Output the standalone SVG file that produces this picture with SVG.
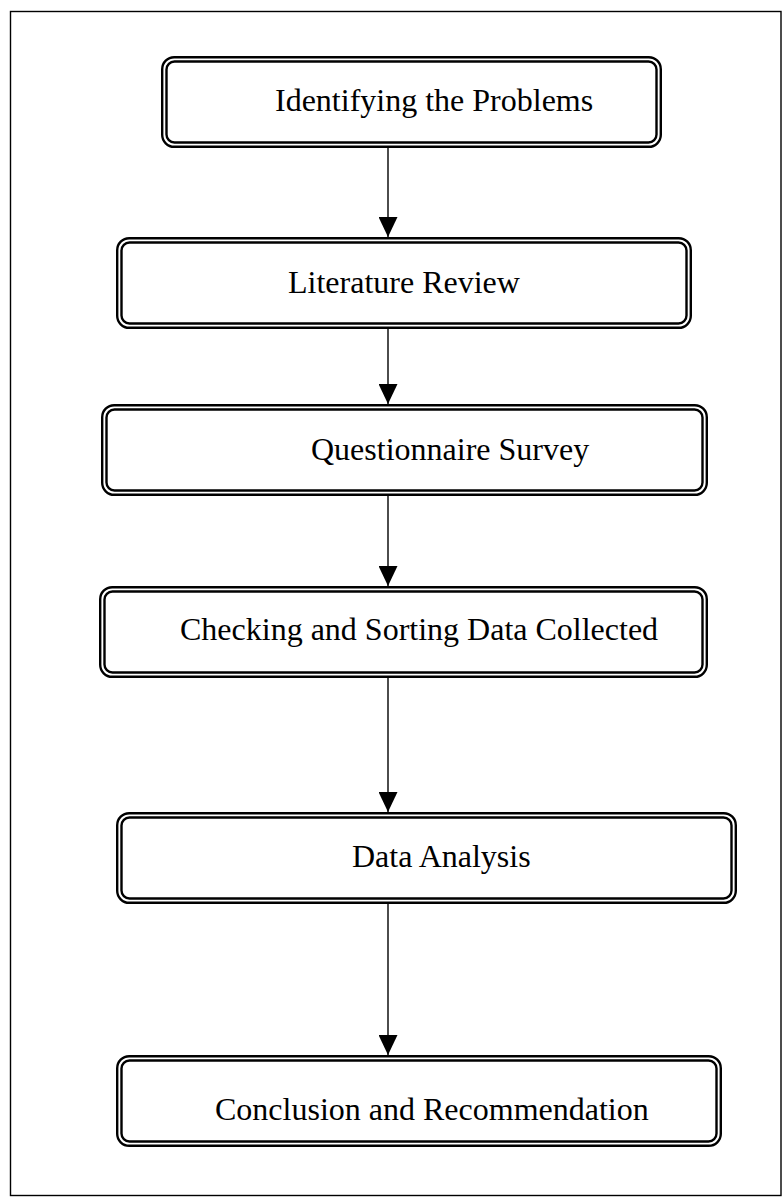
<svg xmlns="http://www.w3.org/2000/svg" width="784" height="1198" viewBox="0 0 784 1198">
  <style>
    .frame { fill: none; stroke: #000; stroke-width: 1.4; }
    .outer { fill: #fff; stroke: #000; stroke-width: 2.4; }
    .inner { fill: none; stroke: #000; stroke-width: 2.4; }
    .lbl { font-family: "Liberation Serif", "Times New Roman", serif; font-size: 32px; fill: #000; }
    .conn { stroke: #000; stroke-width: 1.4; fill: none; marker-end: url(#ah); }
  </style>
  <defs>
    <marker id="ah" viewBox="0 0 20 19" refX="20" refY="9.5" markerWidth="20" markerHeight="19" markerUnits="userSpaceOnUse" orient="auto">
      <path d="M0,0 L20,9.5 L0,19 Z" fill="#000"/>
    </marker>
  </defs>
  <rect width="784" height="1198" fill="#fff"/>
  <rect class="frame" x="10.5" y="11.5" width="770.5" height="1184"/>

  <g id="connectors">
    <line class="conn" x1="388" y1="148" x2="388" y2="237"/>
    <line class="conn" x1="388" y1="329" x2="388" y2="404"/>
    <line class="conn" x1="388" y1="496" x2="388" y2="586"/>
    <line class="conn" x1="388" y1="678" x2="388" y2="812"/>
    <line class="conn" x1="388" y1="904" x2="388" y2="1055"/>
  </g>

  <g id="node1">
    <rect class="outer" x="162.2" y="57.2" width="498.6" height="89.6" rx="12"/>
    <rect class="inner" x="166.5" y="61.5" width="490" height="81" rx="8"/>
    <text class="lbl" x="275" y="111">Identifying the Problems</text>
  </g>
  <g id="node2">
    <rect class="outer" x="117.2" y="238.2" width="573.6" height="89.6" rx="12"/>
    <rect class="inner" x="121.5" y="242.5" width="565" height="81" rx="8"/>
    <text class="lbl" x="288" y="293">Literature Review</text>
  </g>
  <g id="node3">
    <rect class="outer" x="102.2" y="405.2" width="604.6" height="89.6" rx="12"/>
    <rect class="inner" x="106.5" y="409.5" width="596" height="81" rx="8"/>
    <text class="lbl" x="311" y="460">Questionnaire Survey</text>
  </g>
  <g id="node4">
    <rect class="outer" x="100.2" y="587.2" width="606.6" height="89.6" rx="12"/>
    <rect class="inner" x="104.5" y="591.5" width="598" height="81" rx="8"/>
    <text class="lbl" x="180" y="640">Checking and Sorting Data Collected</text>
  </g>
  <g id="node5">
    <rect class="outer" x="117.2" y="813.2" width="618.6" height="89.6" rx="12"/>
    <rect class="inner" x="121.5" y="817.5" width="610" height="81" rx="8"/>
    <text class="lbl" x="352" y="867">Data Analysis</text>
  </g>
  <g id="node6">
    <rect class="outer" x="117.2" y="1056.2" width="603.6" height="89.6" rx="12"/>
    <rect class="inner" x="121.5" y="1060.5" width="595" height="81" rx="8"/>
    <text class="lbl" x="215" y="1120">Conclusion and Recommendation</text>
  </g>
</svg>
